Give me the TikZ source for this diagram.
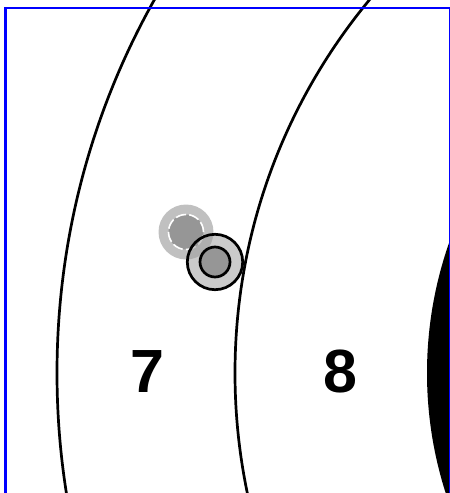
\documentclass[tikz,border=0pt]{standalone}
\usepackage{fontspec}
\setmainfont{Liberation Sans}
\usepackage{tikz}
\usetikzlibrary{positioning}

\definecolor{halo}{RGB}{192,192,192}
\definecolor{core}{RGB}{150,150,150}
\definecolor{ringfill}{RGB}{160,160,160}

\begin{document}
\begin{tikzpicture}[x=1pt,y=-1pt,
  ringline/.style={draw=black,line width=2.7pt},
  score/.style={font=\fontsize{61}{61}\selectfont\bfseries,text=black,inner sep=0pt}]
\useasboundingbox (0,0) rectangle (450,493);
\begin{scope}
\clip (0,0) rectangle (450,493);
\coordinate (ctr) at (820,373);
\fill[black] (ctr) circle (393pt);
\draw[ringline] (ctr) circle (585pt);
\draw[ringline] (ctr) circle (763pt);
\draw[blue,line width=2.5pt] (5.3,520) |- (450.2,8) -- (450.2,520);
\end{scope}
% earlier shot
\coordinate (s1) at (186,232);
\fill[halo] (s1) circle (27.5pt);
\fill[core] (s1) circle (17.5pt);
\draw[white,line width=1.6pt,dash pattern=on 10.5pt off 3.2pt] (s1) circle (17.5pt);
% last shot
\coordinate (s2) at (215,262);
\fill[ringfill,fill opacity=0.55] (s2) circle (27.7pt);
\draw[ringline] (s2) circle (27.7pt);
\draw[ringline,fill=core] (s2) circle (15pt);
\node[score] (seven) at (147,371.5) {7};
\node[score] (eight) at (340,371.5) {8};
\end{tikzpicture}
\end{document}
